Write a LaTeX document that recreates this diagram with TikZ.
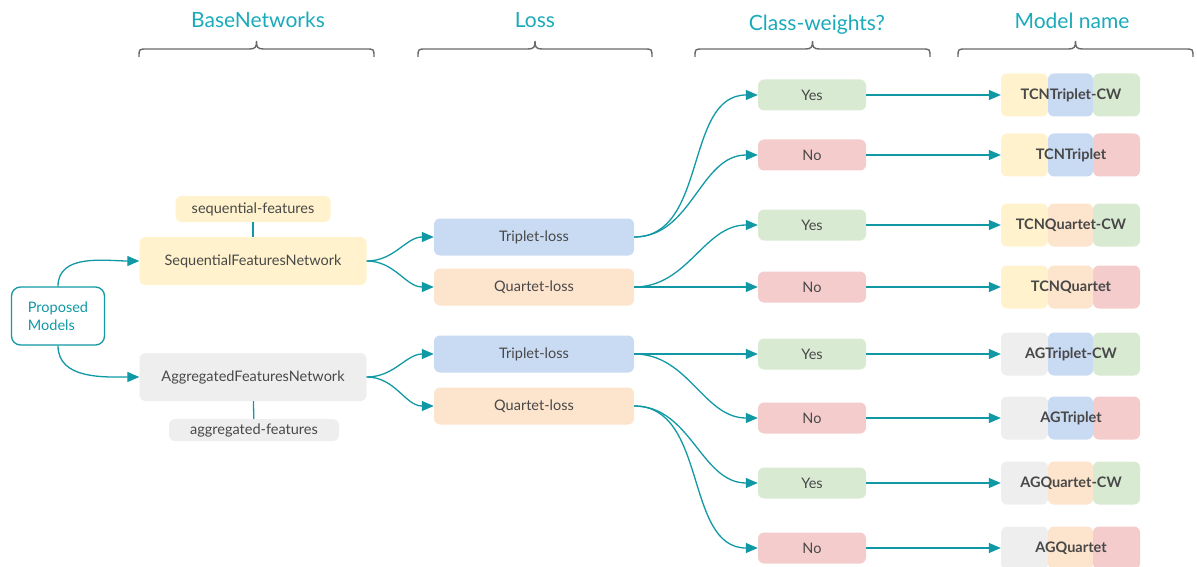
\documentclass[tikz,border=0pt]{standalone}
\usepackage{fontspec}
\setmainfont{Lato}
\usetikzlibrary{arrows.meta}
\definecolor{teal1}{RGB}{16,153,165}
\definecolor{hdr}{RGB}{26,170,186}
\definecolor{txt}{RGB}{72,72,72}
\definecolor{yel}{RGB}{255,242,204}
\definecolor{gry}{RGB}{238,238,238}
\definecolor{blu}{RGB}{201,218,243}
\definecolor{org}{RGB}{253,228,205}
\definecolor{grn}{RGB}{217,234,211}
\definecolor{redl}{RGB}{244,204,204}
\definecolor{brc}{RGB}{105,105,105}
\newcommand\hbrace[2]{%
  \pgfmathsetmacro\bc{(#1+#2)/2}%
  \draw[brc, line width=1.4pt] (#1,57) .. controls (#1,49) .. (#1+8,49) -- (\bc-7,49)
    .. controls (\bc-1,49) and (\bc,47) .. (\bc,41)
    .. controls (\bc,47) and (\bc+1,49) .. (\bc+7,49) -- (#2-8,49)
    .. controls (#2,49) .. (#2,57);}
\begin{document}
\begin{tikzpicture}[x=1pt,y=-1pt,
  box/.style={rounded corners=6pt, inner sep=0pt, text=txt, font=\fontsize{14.5}{16}\selectfont},
  netbox/.style={box, minimum width=227pt, minimum height=48pt},
  lossbox/.style={box, minimum width=200pt, minimum height=37pt},
  ynbox/.style={box, minimum width=108pt, minimum height=31pt},
  tagbox/.style={box, minimum height=26pt},
  part/.style={rounded corners=6pt, inner sep=0pt, minimum width=47pt, minimum height=43pt},
  mname/.style={inner sep=0pt, text=txt, font=\fontsize{14.5}{16}\selectfont\bfseries},
  hdrtxt/.style={text=hdr, font=\fontsize{21}{24}\selectfont},
  conn/.style={draw=teal1, line width=1.3pt, -{Triangle[length=12pt,width=10pt]}},
  plain/.style={draw=teal1, line width=1.3pt}]
\useasboundingbox (0,0) rectangle (1197,567);

% headers
\node[hdrtxt] (h1) at (258,20) {BaseNetworks};
\node[hdrtxt] (h2) at (535,20) {Loss};
\node[hdrtxt] (h3) at (817,25) {Class-weights?};
\node[hdrtxt] (h4) at (1072,21) {Model name};
\hbrace{139}{374}
\hbrace{418}{652}
\hbrace{695}{930}
\hbrace{958}{1193}

% left
\node[draw=teal1, line width=1.3pt, fill=white, rounded corners=9pt, minimum width=93pt, minimum height=58pt,
      text=teal1, align=left, font=\fontsize{14.5}{17.5}\selectfont, inner sep=0pt] (pm) at (58,316) {Proposed\\Models};
\node[netbox, fill=yel] (sfn) at (253,261) {SequentialFeaturesNetwork};
\node[netbox, fill=gry] (afn) at (253,377) {AggregatedFeaturesNetwork};
\node[tagbox, fill=yel, minimum width=155pt] (sf) at (253,209) {sequential-features};
\node[tagbox, fill=gry, minimum width=170pt, minimum height=22pt] (af) at (254,430) {aggregated-features};
\draw[plain] (sf) -- (sfn);
\draw[plain] (afn) -- (af);

% loss
\node[lossbox, fill=blu] (t1) at (534,237) {Triplet-loss};
\node[lossbox, fill=org] (q1) at (534,287) {Quartet-loss};
\node[lossbox, fill=blu] (t2) at (534,354) {Triplet-loss};
\node[lossbox, fill=org] (q2) at (534,406) {Quartet-loss};

% yes/no
\node[ynbox, fill=grn]  (y1) at (812,95)  {Yes};
\node[ynbox, fill=redl] (n1) at (812,155) {No};
\node[ynbox, fill=grn]  (y2) at (812,225) {Yes};
\node[ynbox, fill=redl] (n2) at (812,287) {No};
\node[ynbox, fill=grn]  (y3) at (812,354) {Yes};
\node[ynbox, fill=redl] (n3) at (812,418) {No};
\node[ynbox, fill=grn]  (y4) at (812,483) {Yes};
\node[ynbox, fill=redl] (n4) at (812,548) {No};

% model names
\foreach \i/\yy/\ca/\cb/\cc/\nm in {
  1/95/yel/blu/grn/TCNTriplet-CW,
  2/155/yel/blu/redl/TCNTriplet,
  3/225/yel/org/grn/TCNQuartet-CW,
  4/287/yel/org/redl/TCNQuartet,
  5/354/gry/blu/grn/AGTriplet-CW,
  6/418/gry/blu/redl/AGTriplet,
  7/483/gry/org/grn/AGQuartet-CW,
  8/548/gry/org/redl/AGQuartet}{
  \node[part, fill=\ca] (m\i a) at (1024.5,\yy) {};
  \node[part, fill=\cb, minimum width=45pt] (m\i b) at (1070.5,\yy) {};
  \node[part, fill=\cc] (m\i c) at (1116.5,\yy) {};
  \node[mname] (m\i t) at (1071,\yy) {\nm};
}

% connectors
\draw[conn] (pm.north) to[out=90, in=180] (sfn.west);
\draw[conn] (pm.south) to[out=-90, in=180] (afn.west);
\draw[conn] (sfn.east) to[out=0, in=180] (t1.west);
\draw[conn] (sfn.east) to[out=0, in=180] (q1.west);
\draw[conn] (afn.east) to[out=0, in=180] (t2.west);
\draw[conn] (afn.east) to[out=0, in=180] (q2.west);
\draw[conn] (t1.east) to[out=0, in=180] (y1.west);
\draw[conn] (t1.east) to[out=0, in=180] (n1.west);
\draw[conn] (q1.east) to[out=0, in=180] (y2.west);
\draw[conn] (q1.east) -- (n2.west);
\draw[conn] (t2.east) -- (y3.west);
\draw[conn] (t2.east) to[out=0, in=180] (n3.west);
\draw[conn] (q2.east) to[out=0, in=180] (y4.west);
\draw[conn] (q2.east) to[out=0, in=180] (n4.west);
\foreach \i/\s in {1/y1,2/n1,3/y2,4/n2,5/y3,6/n3,7/y4,8/n4}
  \draw[conn] (\s.east) -- (m\i a.west);
\end{tikzpicture}
\end{document}
